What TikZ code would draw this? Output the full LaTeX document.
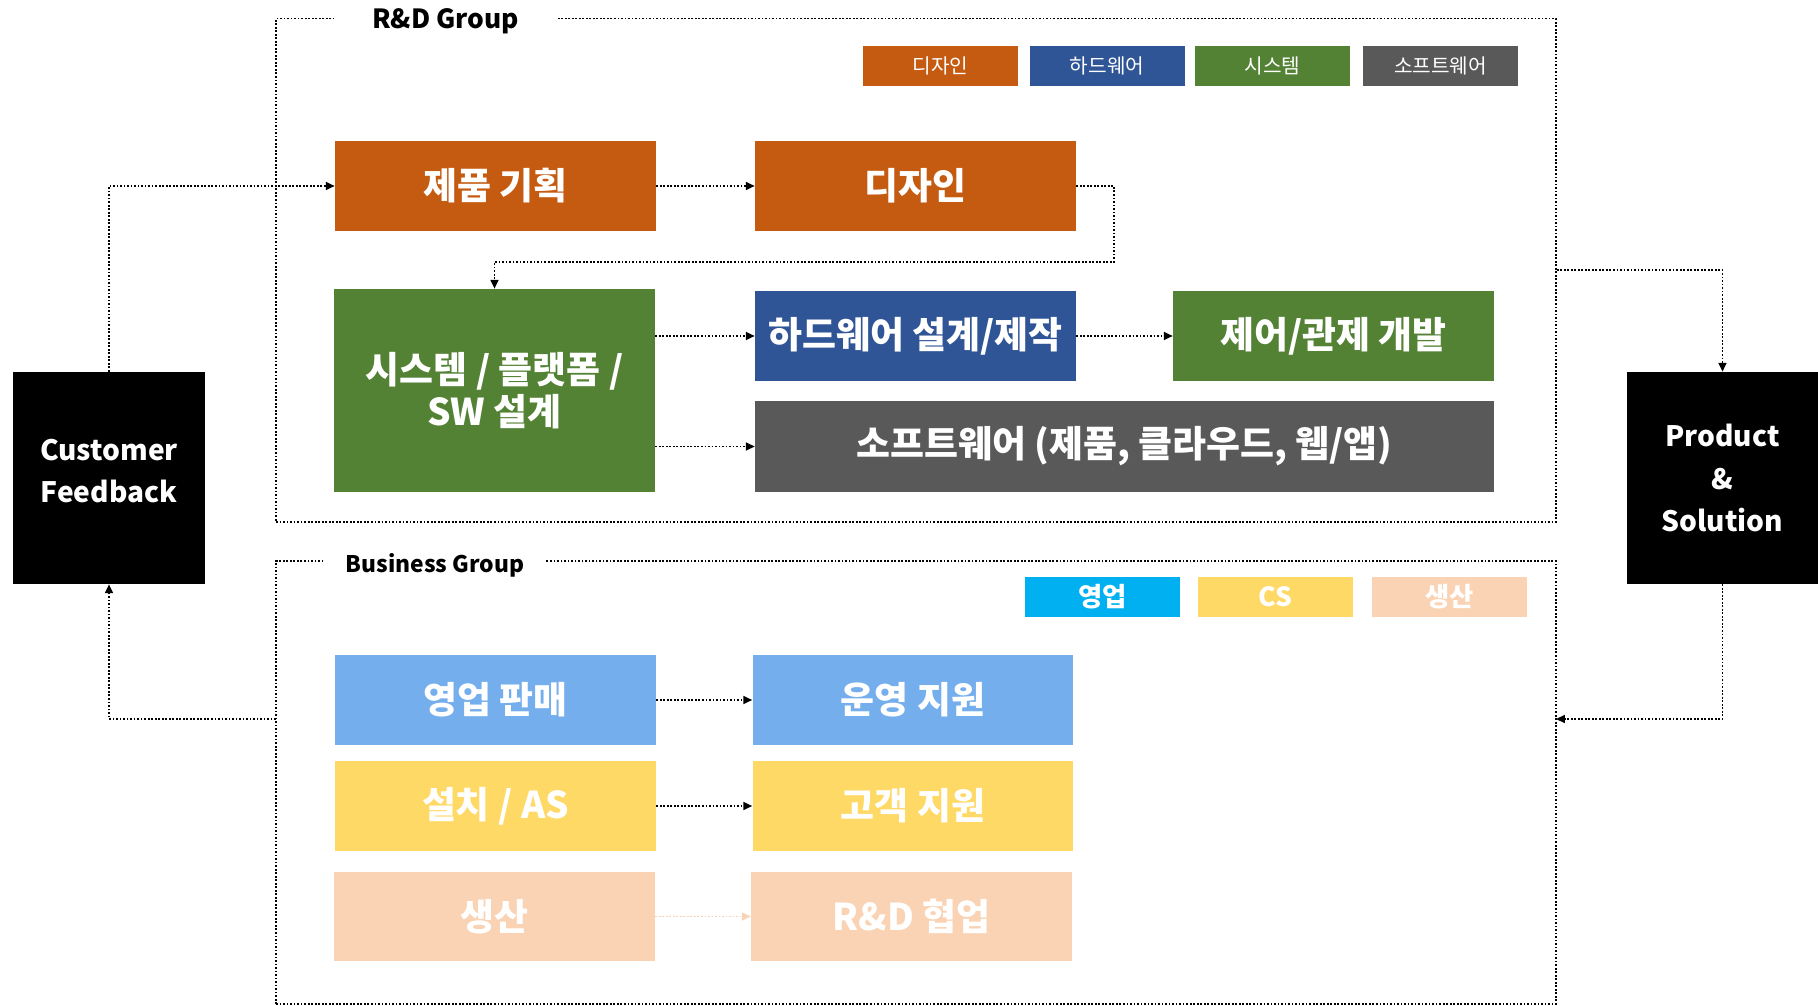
\documentclass[tikz,border=0pt]{standalone}
\usepackage{fontspec}
\setmainfont{Noto Sans CJK KR}
\usepackage{xcolor}
\usepackage{tikz}
\usetikzlibrary{arrows.meta,positioning}

\definecolor{designc}{HTML}{C55A11}
\definecolor{hwc}{HTML}{2F5597}
\definecolor{sysc}{HTML}{548235}
\definecolor{swc}{HTML}{595959}
\definecolor{salesc}{HTML}{00B0F0}
\definecolor{salesbox}{HTML}{75AEED}
\definecolor{csc}{HTML}{FFD966}
\definecolor{prodc}{HTML}{F9D3B4}

\begin{document}
\begin{tikzpicture}[x=0.02cm, y=-0.02cm,
    block/.style={fill=#1, text=white, minimum width=6.42cm, minimum height=1.8cm, inner sep=0pt, font=\bfseries\fontsize{21}{24}\selectfont, align=center},
    legend/.style={fill=#1, text=white, minimum width=3.1cm, minimum height=0.8cm, inner sep=0pt, font=\fontsize{11.5}{13}\selectfont},
    group/.style={draw, densely dotted, line width=1pt, inner sep=0pt},
    flow/.style={densely dotted, line width=1pt, -{Triangle[length=5pt,width=4.5pt]}},
    endbox/.style={fill=black, text=white, minimum width=3.84cm, minimum height=4.24cm, inner sep=0pt, font=\bfseries\fontsize{16}{24}\selectfont, align=center}]
        \useasboundingbox (0,0) rectangle (1818,1006);
        % Grupos R&D y Business
        \node[group, minimum width=25.6cm, minimum height=10.07cm] (rdgroup) at (916,270.25) {};
        \node[group, minimum width=25.6cm, minimum height=8.86cm] (bizgroup) at (916,782.5) {};
        \node[fill=white, minimum width=4.46cm, inner sep=2pt, font=\bfseries\fontsize{15}{18}\selectfont] (rdtitle) at (445.5,21) {R\&D Group};
        \node[fill=white, minimum width=4.4cm, inner sep=2pt, font=\bfseries\fontsize{13}{16}\selectfont] (biztitle) at (435,565) {Business Group};

        % Leyendas
        \node[legend=designc] (legdesign) at (940.5,66) {디자인};
        \node[legend=hwc] (leghw) at (1107,66) {하드웨어};
        \node[legend=sysc] (legsys) at (1272.5,66) {시스템};
        \node[legend=swc] (legsw) at (1440.5,66) {소프트웨어};
        \node[legend=salesc, font=\bfseries\fontsize{15}{18}\selectfont] (legsales) at (1102.5,597) {영업};
        \node[legend=csc, font=\bfseries\fontsize{15}{18}\selectfont] (legcs) at (1275.5,597) {CS};
        \node[legend=prodc, font=\bfseries\fontsize{15}{18}\selectfont] (legprod) at (1449.5,597) {생산};

        % Bloques R&D
        \node[block=designc] (plan) at (495.5,186) {제품 기획};
        \node[block=designc] (design) at (915.5,186) {디자인};
        \node[block=sysc, minimum height=4.06cm] (system) at (494.5,390.5) {시스템 / 플랫폼 /\\SW 설계};
        \node[block=hwc] (hw) at (915.5,336) {하드웨어 설계/제작};
        \node[block=sysc] (ctrl) at (1333.5,336) {제어/관제 개발};
        \node[block=swc, minimum width=14.78cm, minimum height=1.82cm] (sw) at (1124.5,446.5) {소프트웨어 (제품, 클라우드, 웹/앱)};

        % Bloques Business
        \node[block=salesbox] (sales) at (495.5,700) {영업 판매};
        \node[block=salesbox] (ops) at (913,700) {운영 지원};
        \node[block=csc] (install) at (495.5,806) {설치 / AS};
        \node[block=csc] (support) at (913,806) {고객 지원};
        \node[block=prodc] (prod) at (494.5,916.5) {생산};
        \node[block=prodc] (collab) at (911.5,916.5) {R\&D 협업};

        % Extremos
        \node[endbox] (feedback) at (109,478) {Customer\\Feedback\\[-23pt]\strut};
        \node[endbox, minimum width=3.82cm] (solution) at (1722.5,478) {Product\\\&\\Solution};

        \coordinate (bend) at (1114,262);
        \coordinate (bizin) at (1556,719);
        \coordinate (bizout) at (276,719);

        \draw[flow] (feedback.north) |- (plan.west);
        \draw[flow] (plan) -- (design);
        \draw[flow] (design.east) -| (bend) -| (system.north);
        \draw[flow] (system.east |- hw.west) -- (hw.west);
        \draw[flow] (system.east |- sw.west) -- (sw.west);
        \draw[flow] (hw) -- (ctrl);
        \draw[flow] (rdgroup.east) -| (solution.north);
        \draw[flow] (solution.south) |- (bizin);
        \draw[flow] (bizout) -| (feedback.south);
        \draw[flow] (sales) -- (ops);
        \draw[flow] (install) -- (support);
        \draw[flow, draw=prodc] (prod) -- (collab);
    \end{tikzpicture}
\end{document}
